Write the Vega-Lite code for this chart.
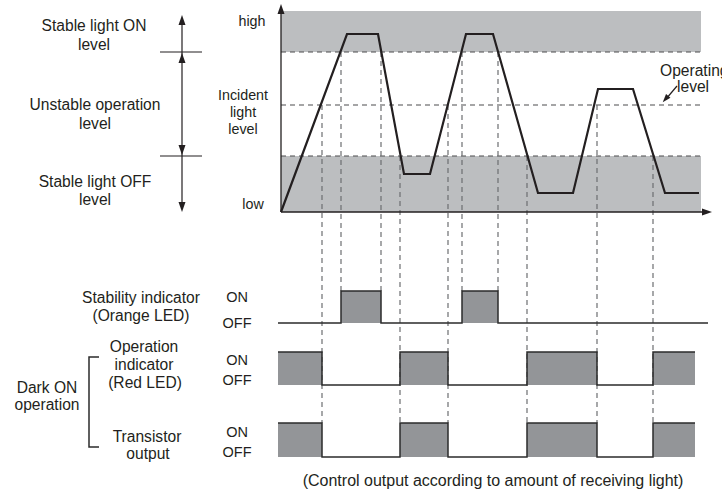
{
  "$schema": "https://vega.github.io/schema/vega-lite/v6.json",
  "width": 722,
  "height": 493,
  "autosize": {"type": "fit", "contains": "padding"},
  "padding": 0,
  "background": "white",
  "config": {"view": {"stroke": null}, "text": {"font": "Liberation Sans", "color": "#231f20"}},
  "datasets": {
    "bands": [
      {"x": 281, "x2": 701, "y": 11, "y2": 52},
      {"x": 281, "x2": 701, "y": 156, "y2": 212}
    ],
    "hdash": [
      {"x": 281, "x2": 701, "y": 52},
      {"x": 281, "x2": 701, "y": 105},
      {"x": 281, "x2": 701, "y": 156}
    ],
    "vdash": [
      {"x": 322, "y": 105, "y2": 423},
      {"x": 341, "y": 52, "y2": 291},
      {"x": 381, "y": 52, "y2": 291},
      {"x": 400, "y": 156, "y2": 423},
      {"x": 448, "y": 105, "y2": 423},
      {"x": 462, "y": 52, "y2": 291},
      {"x": 498, "y": 52, "y2": 291},
      {"x": 527, "y": 156, "y2": 423},
      {"x": 597, "y": 105, "y2": 423},
      {"x": 653, "y": 156, "y2": 423}
    ],
    "wave": [
      {"i": 0, "x": 281, "y": 212},
      {"i": 1, "x": 347, "y": 34},
      {"i": 2, "x": 378, "y": 34},
      {"i": 3, "x": 404, "y": 174},
      {"i": 4, "x": 430, "y": 174},
      {"i": 5, "x": 466, "y": 34},
      {"i": 6, "x": 493, "y": 34},
      {"i": 7, "x": 538, "y": 193},
      {"i": 8, "x": 573, "y": 193},
      {"i": 9, "x": 598, "y": 89},
      {"i": 10, "x": 633, "y": 89},
      {"i": 11, "x": 665, "y": 193},
      {"i": 12, "x": 699, "y": 193}
    ],
    "pulses": [
      {"g": "stab", "x": 341, "x2": 381, "y": 291, "y2": 323},
      {"g": "stab", "x": 462, "x2": 498, "y": 291, "y2": 323},
      {"g": "op", "x": 278, "x2": 322, "y": 352, "y2": 385},
      {"g": "op", "x": 400, "x2": 448, "y": 352, "y2": 385},
      {"g": "op", "x": 527, "x2": 597, "y": 352, "y2": 385},
      {"g": "op", "x": 653, "x2": 695, "y": 352, "y2": 385},
      {"g": "tr", "x": 278, "x2": 322, "y": 423, "y2": 457},
      {"g": "tr", "x": 400, "x2": 448, "y": 423, "y2": 457},
      {"g": "tr", "x": 527, "x2": 597, "y": 423, "y2": 457},
      {"g": "tr", "x": 653, "x2": 695, "y": 423, "y2": 457}
    ],
    "steps": [
      {"g": "stab", "i": 0, "x": 278, "y": 323},
      {"g": "stab", "i": 1, "x": 341, "y": 323},
      {"g": "stab", "i": 2, "x": 341, "y": 291},
      {"g": "stab", "i": 3, "x": 381, "y": 291},
      {"g": "stab", "i": 4, "x": 381, "y": 323},
      {"g": "stab", "i": 5, "x": 462, "y": 323},
      {"g": "stab", "i": 6, "x": 462, "y": 291},
      {"g": "stab", "i": 7, "x": 498, "y": 291},
      {"g": "stab", "i": 8, "x": 498, "y": 323},
      {"g": "stab", "i": 9, "x": 708, "y": 323},
      {"g": "op", "i": 0, "x": 278, "y": 352},
      {"g": "op", "i": 1, "x": 322, "y": 352},
      {"g": "op", "i": 2, "x": 322, "y": 385},
      {"g": "op", "i": 3, "x": 400, "y": 385},
      {"g": "op", "i": 4, "x": 400, "y": 352},
      {"g": "op", "i": 5, "x": 448, "y": 352},
      {"g": "op", "i": 6, "x": 448, "y": 385},
      {"g": "op", "i": 7, "x": 527, "y": 385},
      {"g": "op", "i": 8, "x": 527, "y": 352},
      {"g": "op", "i": 9, "x": 597, "y": 352},
      {"g": "op", "i": 10, "x": 597, "y": 385},
      {"g": "op", "i": 11, "x": 653, "y": 385},
      {"g": "op", "i": 12, "x": 653, "y": 352},
      {"g": "op", "i": 13, "x": 695, "y": 352},
      {"g": "tr", "i": 0, "x": 278, "y": 423},
      {"g": "tr", "i": 1, "x": 322, "y": 423},
      {"g": "tr", "i": 2, "x": 322, "y": 457},
      {"g": "tr", "i": 3, "x": 400, "y": 457},
      {"g": "tr", "i": 4, "x": 400, "y": 423},
      {"g": "tr", "i": 5, "x": 448, "y": 423},
      {"g": "tr", "i": 6, "x": 448, "y": 457},
      {"g": "tr", "i": 7, "x": 527, "y": 457},
      {"g": "tr", "i": 8, "x": 527, "y": 423},
      {"g": "tr", "i": 9, "x": 597, "y": 423},
      {"g": "tr", "i": 10, "x": 597, "y": 457},
      {"g": "tr", "i": 11, "x": 653, "y": 457},
      {"g": "tr", "i": 12, "x": 653, "y": 423},
      {"g": "tr", "i": 13, "x": 695, "y": 423},
      {"g": "brk", "i": 0, "x": 99, "y": 357},
      {"g": "brk", "i": 1, "x": 89, "y": 357},
      {"g": "brk", "i": 2, "x": 89, "y": 447},
      {"g": "brk", "i": 3, "x": 99, "y": 447}
    ],
    "solid": [
      {"x": 281, "x2": 281, "y": 212, "y2": 12, "w": 1.3},
      {"x": 281, "x2": 704, "y": 212, "y2": 212, "w": 1.3},
      {"x": 182, "x2": 182, "y": 22, "y2": 205, "w": 1.2},
      {"x": 160, "x2": 202, "y": 52, "y2": 52, "w": 1.2},
      {"x": 160, "x2": 202, "y": 156, "y2": 156, "w": 1.2},
      {"x": 677, "x2": 666, "y": 86, "y2": 99, "w": 1.2}
    ],
    "heads": [
      {"x": 281, "y": 9, "dir": "up"},
      {"x": 707, "y": 212, "dir": "right"},
      {"x": 182, "y": 20, "dir": "up"},
      {"x": 182, "y": 58, "dir": "up"},
      {"x": 182, "y": 150, "dir": "down"},
      {"x": 182, "y": 207, "dir": "down"}
    ],
    "tilted": [
      {"x": 665.5, "y": 99}
    ],
    "ctext": [
      {"t": "Stable light ON", "x": 94, "y": 31, "fs": 15.6},
      {"t": "level", "x": 94, "y": 50, "fs": 15.6},
      {"t": "Unstable operation", "x": 95, "y": 110, "fs": 15.6},
      {"t": "level", "x": 95, "y": 129, "fs": 15.6},
      {"t": "Stable light OFF", "x": 95, "y": 187, "fs": 15.6},
      {"t": "level", "x": 95, "y": 205, "fs": 15.6},
      {"t": "Stability indicator", "x": 141, "y": 303, "fs": 15.6},
      {"t": "(Orange LED)", "x": 141, "y": 321, "fs": 15.6},
      {"t": "Operation", "x": 144, "y": 352, "fs": 15.6},
      {"t": "indicator", "x": 144, "y": 370, "fs": 15.6},
      {"t": "(Red LED)", "x": 145, "y": 388, "fs": 15.6},
      {"t": "Dark ON", "x": 47, "y": 393, "fs": 15.6},
      {"t": "operation", "x": 47, "y": 410, "fs": 15.6},
      {"t": "Transistor", "x": 147, "y": 442, "fs": 15.6},
      {"t": "output", "x": 148, "y": 459, "fs": 15.6},
      {"t": "(Control output according to amount of receiving light)", "x": 493, "y": 486, "fs": 16},
      {"t": "high", "x": 252, "y": 26, "fs": 14.3},
      {"t": "Incident", "x": 243, "y": 100, "fs": 14.3},
      {"t": "light", "x": 243, "y": 117, "fs": 14.3},
      {"t": "level", "x": 243, "y": 134, "fs": 14.3},
      {"t": "low", "x": 253, "y": 209, "fs": 14.3},
      {"t": "ON", "x": 237, "y": 302, "fs": 14.5},
      {"t": "OFF", "x": 237, "y": 328, "fs": 14.5},
      {"t": "ON", "x": 237, "y": 365, "fs": 14.5},
      {"t": "OFF", "x": 237, "y": 385, "fs": 14.5},
      {"t": "ON", "x": 237, "y": 437, "fs": 14.5},
      {"t": "OFF", "x": 237, "y": 457, "fs": 14.5}
    ],
    "ltext": [
      {"t": "Operating", "x": 660, "y": 76, "fs": 15.6},
      {"t": "level", "x": 677, "y": 92, "fs": 15.6}
    ]
  },
  "layer": [
    {
      "data": {"name": "bands"},
      "mark": {"type": "rect", "color": "#bcbec0"},
      "encoding": {
        "x": {"field": "x", "type": "quantitative", "scale": {"domain": [0, 722], "nice": false, "zero": false}, "axis": null},
        "x2": {"field": "x2"},
        "y": {"field": "y", "type": "quantitative", "scale": {"domain": [0, 493], "nice": false, "zero": false, "reverse": true}, "axis": null},
        "y2": {"field": "y2"}
      }
    },
    {
      "data": {"name": "pulses"},
      "mark": {"type": "rect", "color": "#939598"},
      "encoding": {
        "x": {"field": "x", "type": "quantitative", "scale": {"domain": [0, 722], "nice": false, "zero": false}, "axis": null},
        "x2": {"field": "x2"},
        "y": {"field": "y", "type": "quantitative", "scale": {"domain": [0, 493], "nice": false, "zero": false, "reverse": true}, "axis": null},
        "y2": {"field": "y2"}
      }
    },
    {
      "data": {"name": "hdash"},
      "mark": {"type": "rule", "color": "#4d4d4f", "strokeWidth": 1.2, "strokeDash": [5, 4]},
      "encoding": {
        "x": {"field": "x", "type": "quantitative", "scale": {"domain": [0, 722], "nice": false, "zero": false}, "axis": null},
        "x2": {"field": "x2"},
        "y": {"field": "y", "type": "quantitative", "scale": {"domain": [0, 493], "nice": false, "zero": false, "reverse": true}, "axis": null}
      }
    },
    {
      "data": {"name": "vdash"},
      "mark": {"type": "rule", "color": "#6d6e71", "strokeWidth": 1.2, "strokeDash": [5, 4]},
      "encoding": {
        "x": {"field": "x", "type": "quantitative", "scale": {"domain": [0, 722], "nice": false, "zero": false}, "axis": null},
        "y": {"field": "y", "type": "quantitative", "scale": {"domain": [0, 493], "nice": false, "zero": false, "reverse": true}, "axis": null},
        "y2": {"field": "y2"}
      }
    },
    {
      "data": {"name": "steps"},
      "mark": {"type": "line", "color": "#2b2b2b", "strokeWidth": 1.5, "interpolate": "linear"},
      "encoding": {
        "x": {"field": "x", "type": "quantitative", "scale": {"domain": [0, 722], "nice": false, "zero": false}, "axis": null},
        "y": {"field": "y", "type": "quantitative", "scale": {"domain": [0, 493], "nice": false, "zero": false, "reverse": true}, "axis": null},
        "detail": {"field": "g", "type": "nominal"},
        "order": {"field": "i", "type": "quantitative"}
      }
    },
    {
      "data": {"name": "wave"},
      "mark": {"type": "line", "color": "#231f20", "strokeWidth": 2.2, "strokeJoin": "miter"},
      "encoding": {
        "x": {"field": "x", "type": "quantitative", "scale": {"domain": [0, 722], "nice": false, "zero": false}, "axis": null},
        "y": {"field": "y", "type": "quantitative", "scale": {"domain": [0, 493], "nice": false, "zero": false, "reverse": true}, "axis": null},
        "order": {"field": "i", "type": "quantitative"}
      }
    },
    {
      "data": {"name": "solid"},
      "mark": {"type": "rule", "color": "#231f20"},
      "encoding": {
        "x": {"field": "x", "type": "quantitative", "scale": {"domain": [0, 722], "nice": false, "zero": false}, "axis": null},
        "x2": {"field": "x2"},
        "y": {"field": "y", "type": "quantitative", "scale": {"domain": [0, 493], "nice": false, "zero": false, "reverse": true}, "axis": null},
        "y2": {"field": "y2"},
        "strokeWidth": {"field": "w", "type": "quantitative", "scale": null}
      }
    },
    {
      "data": {"name": "heads"},
      "mark": {"type": "point", "filled": true, "color": "#231f20", "opacity": 1, "size": 100, "strokeWidth": 0},
      "encoding": {
        "x": {"field": "x", "type": "quantitative", "scale": {"domain": [0, 722], "nice": false, "zero": false}, "axis": null},
        "y": {"field": "y", "type": "quantitative", "scale": {"domain": [0, 493], "nice": false, "zero": false, "reverse": true}, "axis": null},
        "shape": {"field": "dir", "type": "nominal", "scale": {"domain": ["up", "down", "right"], "range": ["M0,-1L0.7,1L-0.7,1Z", "M0,1L0.7,-1L-0.7,-1Z", "M1,0L-1,0.7L-1,-0.7Z"]}, "legend": null}
      }
    },
    {
      "data": {"name": "tilted"},
      "mark": {"type": "point", "filled": true, "color": "#231f20", "opacity": 1, "size": 70, "strokeWidth": 0, "shape": "M0,-1L0.7,1L-0.7,1Z", "angle": 221},
      "encoding": {
        "x": {"field": "x", "type": "quantitative", "scale": {"domain": [0, 722], "nice": false, "zero": false}, "axis": null},
        "y": {"field": "y", "type": "quantitative", "scale": {"domain": [0, 493], "nice": false, "zero": false, "reverse": true}, "axis": null}
      }
    },
    {
      "data": {"name": "ctext"},
      "mark": {"type": "text", "align": "center", "baseline": "alphabetic"},
      "encoding": {
        "x": {"field": "x", "type": "quantitative", "scale": {"domain": [0, 722], "nice": false, "zero": false}, "axis": null},
        "y": {"field": "y", "type": "quantitative", "scale": {"domain": [0, 493], "nice": false, "zero": false, "reverse": true}, "axis": null},
        "text": {"field": "t"},
        "size": {"field": "fs", "type": "quantitative", "scale": null}
      }
    },
    {
      "data": {"name": "ltext"},
      "mark": {"type": "text", "align": "left", "baseline": "alphabetic", "clip": true},
      "encoding": {
        "x": {"field": "x", "type": "quantitative", "scale": {"domain": [0, 722], "nice": false, "zero": false}, "axis": null},
        "y": {"field": "y", "type": "quantitative", "scale": {"domain": [0, 493], "nice": false, "zero": false, "reverse": true}, "axis": null},
        "text": {"field": "t"},
        "size": {"field": "fs", "type": "quantitative", "scale": null}
      }
    }
  ]
}
